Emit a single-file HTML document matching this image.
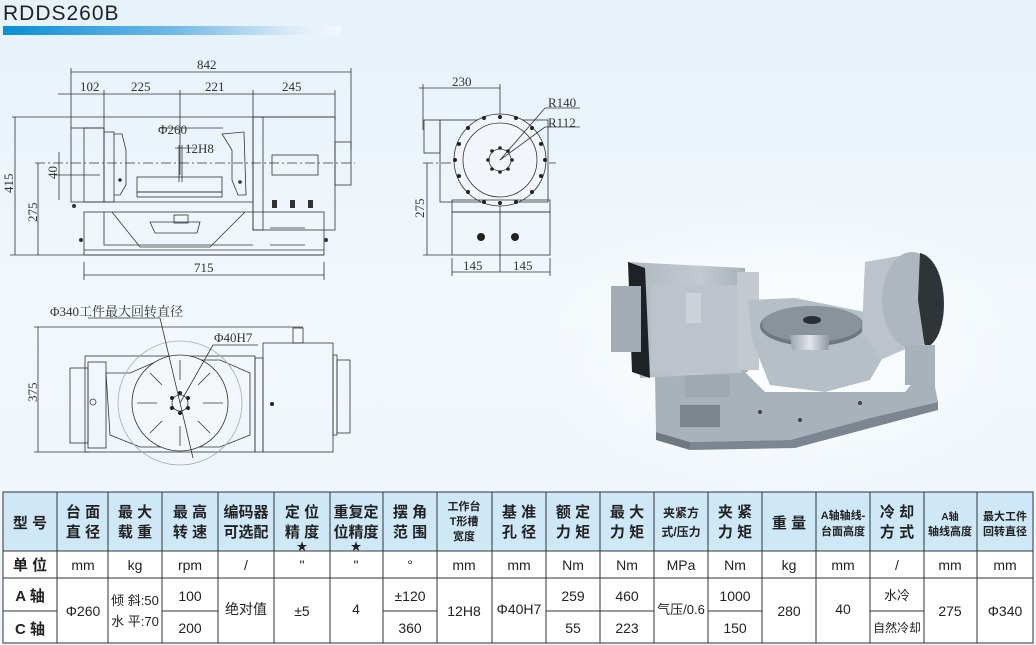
<!DOCTYPE html>
<html><head><meta charset="utf-8"><style>
html,body{margin:0;padding:0;}
body{width:1036px;height:645px;overflow:hidden;background:linear-gradient(180deg,#e6f1fa 0%,#f2f8fc 45%,#eef5fb 100%);font-family:"Liberation Sans","Noto Sans CJK SC",sans-serif;}
svg{position:absolute;left:0;top:0;}
</style></head><body>
<svg width="1036" height="645" viewBox="0 0 1036 645" xmlns="http://www.w3.org/2000/svg">
<defs>
<linearGradient id="bar" x1="0" x2="1" y1="0" y2="0">
<stop offset="0" stop-color="#0a8fd6"/><stop offset="0.5" stop-color="#6fb8e6"/><stop offset="0.85" stop-color="#dbeaf6"/><stop offset="1" stop-color="#f5f9fd"/></linearGradient>
<radialGradient id="glow" cx="0.5" cy="0.5" r="0.5"><stop offset="0" stop-color="#ffffff" stop-opacity="0.9"/><stop offset="1" stop-color="#ffffff" stop-opacity="0"/></radialGradient>
<linearGradient id="metal" x1="0" x2="1"><stop offset="0" stop-color="#9ba4ae"/><stop offset="0.5" stop-color="#e2e6ea"/><stop offset="1" stop-color="#8a939c"/></linearGradient>
<linearGradient id="house" x1="0" x2="1"><stop offset="0" stop-color="#aeb6bf"/><stop offset="0.6" stop-color="#c3cad1"/><stop offset="1" stop-color="#a6aeb7"/></linearGradient>
</defs>
<ellipse cx="780" cy="350" rx="260" ry="150" fill="url(#glow)"/>
<text x="3" y="20" font-size="21" fill="#222" letter-spacing="1">RDDS260B</text>
<rect x="3" y="26" width="338" height="9" fill="url(#bar)"/>

<g stroke="#333" stroke-width="0.8" fill="none" font-family="Liberation Serif,serif" font-size="13">
<line x1="71" y1="72" x2="351" y2="72"/><line x1="71" y1="68" x2="71" y2="128"/><line x1="351" y1="68" x2="351" y2="150"/>
<line x1="58" y1="94" x2="335" y2="94"/>
<line x1="104" y1="90" x2="104" y2="130"/><line x1="180" y1="90" x2="180" y2="175"/><line x1="253" y1="90" x2="253" y2="120"/><line x1="335" y1="90" x2="335" y2="120"/>
<line x1="12" y1="117" x2="335" y2="117"/><line x1="15" y1="117" x2="15" y2="255"/>
<line x1="35" y1="163" x2="355" y2="163" stroke-dasharray="10 3 2 3"/>
<line x1="38" y1="163" x2="38" y2="255"/><line x1="10" y1="255" x2="324" y2="255"/>
<line x1="59" y1="152" x2="59" y2="200"/><line x1="55" y1="175" x2="100" y2="175"/>
<line x1="84" y1="262" x2="84" y2="280"/><line x1="324" y1="262" x2="324" y2="280"/><line x1="84" y1="275" x2="324" y2="275"/>
<rect x="71" y="128" width="33" height="74"/><rect x="84" y="128" width="20" height="74"/>
<rect x="104" y="132" width="10" height="70"/>
<path d="M114 134 L122 134 L126 150 L126 185 L120 195 L114 195"/>
<path d="M222 134 L244 132 L246 195 L238 195 L232 180 L232 150 Z"/>
<rect x="137" y="177" width="85" height="15"/>
<rect x="137" y="192" width="85" height="5"/>
<path d="M104 202 L253 202 M112 212 L140 247 L210 247 L245 212"/>
<path d="M104 212 L104 245 L253 245"/>
<path d="M150 222 L200 222 L197 233 L155 233 Z"/>
<rect x="174" y="215" width="14" height="8"/>
<rect x="253" y="117" width="82" height="113"/><rect x="253" y="117" width="10" height="113"/>
<rect x="272" y="155" width="46" height="20"/>
<rect x="335" y="142" width="16" height="43"/>
<rect x="84" y="212" width="240" height="43"/>
<line x1="84" y1="250" x2="324" y2="250"/>
<line x1="270" y1="228" x2="305" y2="228"/><line x1="270" y1="245" x2="305" y2="245"/>
<line x1="160" y1="128" x2="223" y2="128"/><line x1="175" y1="148" x2="195" y2="148"/>
<line x1="179" y1="145" x2="179" y2="182"/><line x1="182" y1="145" x2="182" y2="182"/>
<g fill="#333" stroke="none">
<circle cx="120" cy="180" r="1.8"/><circle cx="240" cy="182" r="1.8"/><circle cx="74" cy="206" r="2"/><circle cx="81" cy="240" r="2"/><circle cx="326" cy="240" r="2"/>
<rect x="272" y="200" width="5" height="8"/><rect x="290" y="200" width="5" height="8"/><rect x="308" y="200" width="5" height="8"/>
</g>
<line x1="423" y1="84" x2="423" y2="130"/><line x1="500" y1="84" x2="500" y2="272"/><line x1="419" y1="88" x2="500" y2="88"/>
<line x1="423" y1="163" x2="556" y2="163" stroke-dasharray="10 3 2 3"/>
<line x1="427" y1="163" x2="427" y2="255"/><line x1="423" y1="255" x2="452" y2="255"/>
<rect x="424" y="120" width="16" height="33"/>
<rect x="440" y="120" width="108" height="82"/>
<circle cx="500" cy="160" r="46" fill="#f2f6fa"/><circle cx="500" cy="160" r="37"/>
<circle cx="500" cy="160" r="11"/>
<rect x="452" y="200" width="98" height="12"/>
<rect x="452" y="212" width="98" height="43"/>
<line x1="452" y1="258" x2="452" y2="276"/><line x1="550" y1="258" x2="550" y2="276"/>
<line x1="452" y1="272" x2="550" y2="272"/>
<line x1="500" y1="160" x2="545" y2="108"/><line x1="500" y1="160" x2="545" y2="127"/>
<line x1="545" y1="108" x2="580" y2="108"/><line x1="545" y1="127" x2="580" y2="127"/>
<g fill="#222" stroke="none">
<circle cx="481" cy="237" r="4"/><circle cx="515" cy="237" r="4"/>
<circle cx="500" cy="117" r="2"/><circle cx="532" cy="128" r="2"/><circle cx="545" cy="160" r="2"/><circle cx="532" cy="192" r="2"/><circle cx="500" cy="203" r="2"/><circle cx="468" cy="192" r="2"/><circle cx="455" cy="160" r="2"/><circle cx="468" cy="128" r="2"/>
<circle cx="516" cy="118" r="2"/><circle cx="541" cy="144" r="2"/><circle cx="541" cy="176" r="2"/><circle cx="516" cy="202" r="2"/><circle cx="484" cy="202" r="2"/><circle cx="459" cy="176" r="2"/><circle cx="459" cy="144" r="2"/><circle cx="484" cy="118" r="2"/>
<circle cx="500" cy="148" r="1.8"/><circle cx="512" cy="160" r="1.8"/><circle cx="500" cy="172" r="1.8"/><circle cx="488" cy="160" r="1.8"/><circle cx="508" cy="151" r="1.8"/><circle cx="508" cy="169" r="1.8"/><circle cx="492" cy="169" r="1.8"/><circle cx="492" cy="151" r="1.8"/>
</g>
<line x1="34" y1="327" x2="303" y2="327"/><line x1="38" y1="327" x2="38" y2="452"/><line x1="34" y1="452" x2="90" y2="452"/>
<rect x="85" y="356" width="170" height="96"/>
<rect x="70" y="368" width="18" height="75"/><rect x="88" y="362" width="18" height="86"/>
<path d="M106 373 L130 373 L160 360 L220 360 L250 373 L250 435 L220 447 L140 447 L110 435 Z"/>
<circle cx="180" cy="403" r="62" stroke="#aaa"/>
<circle cx="180" cy="403" r="48" fill="#f4f7fa"/>
<circle cx="180" cy="403" r="8"/>
<line x1="180" y1="360" x2="180" y2="380"/><line x1="180" y1="426" x2="180" y2="446"/><line x1="137" y1="403" x2="157" y2="403"/><line x1="203" y1="403" x2="223" y2="403"/>
<line x1="150" y1="373" x2="162" y2="385"/><line x1="210" y1="373" x2="198" y2="385"/><line x1="150" y1="433" x2="162" y2="421"/><line x1="210" y1="433" x2="198" y2="421"/>
<rect x="255" y="358" width="8" height="94"/>
<rect x="263" y="343" width="70" height="109"/>
<rect x="293" y="328" width="10" height="15"/>
<rect x="333" y="355" width="4" height="80"/><rect x="337" y="360" width="13" height="73"/>
<line x1="160" y1="318" x2="193" y2="458"/><line x1="88" y1="318" x2="160" y2="318"/>
<line x1="180" y1="403" x2="213" y2="345"/><line x1="213" y1="345" x2="258" y2="345"/>
<g fill="#222" stroke="none"><circle cx="272" cy="404" r="2"/><circle cx="93" cy="402" r="3" fill="none" stroke="#333"/>
<circle cx="172" cy="398" r="2"/><circle cx="188" cy="398" r="2"/><circle cx="172" cy="408" r="2"/><circle cx="188" cy="408" r="2"/><circle cx="180" cy="393" r="2"/><circle cx="180" cy="413" r="2"/></g>
<g fill="#333" stroke="none">
<text x="197" y="69">842</text>
<text x="80" y="91">102</text><text x="131" y="91">225</text><text x="205" y="91">221</text><text x="282" y="91">245</text>
<text x="158" y="134">Φ260</text><text x="185" y="153">12H8</text>
<text x="194" y="272">715</text>
<text transform="translate(13,193) rotate(-90)">415</text>
<text transform="translate(37,222) rotate(-90)">275</text>
<text transform="translate(57,179) rotate(-90)">40</text>
<text x="452" y="86">230</text>
<text x="548" y="107">R140</text><text x="548" y="127">R112</text>
<text transform="translate(424,218) rotate(-90)">275</text>
<text x="463" y="270">145</text><text x="513" y="270">145</text>
<text transform="translate(37,402) rotate(-90)">375</text>
<text x="50" y="316" font-family="Liberation Serif,'Noto Serif CJK SC',serif">Φ340工件最大回转直径</text>
<text x="214" y="342">Φ40H7</text>
</g>
</g>

<!-- photo -->
<g stroke="none">
<path d="M655 375 L745 372 L765 392 L905 392 L930 362 L938 402 L870 418 L790 440 L690 442 L656 432 Z" fill="#a9b2bb"/>
<path d="M690 442 L790 440 L870 418 L938 402 L938 410 L795 448 L690 450 Z" fill="#7d8690"/>
<path d="M656 432 L690 442 L690 450 L656 440 Z" fill="#6f7780"/>
<rect x="680" y="405" width="40" height="22" fill="#7d868f"/>
<rect x="685" y="375" width="45" height="22" fill="#a0a9b2"/>
<path d="M628 262 L745 268 L748 372 L640 378 Z" fill="url(#house)"/>
<path d="M628 262 L645 268 L650 378 L632 372 Z" fill="#1e2226"/>
<rect x="651" y="285" width="90" height="88" fill="#bcc3ca"/>
<rect x="686" y="293" width="15" height="30" fill="#ccd2d8"/>
<rect x="611" y="286" width="30" height="66" fill="#a3abb4"/>
<rect x="737" y="272" width="22" height="98" fill="#c3c9cf"/>
<path d="M748 300 L795 298 L880 315 L890 345 L870 380 L825 392 L770 385 L752 340 Z" fill="#b6bec6"/>
<ellipse cx="812" cy="326" rx="52" ry="20" fill="#6f7780"/>
<ellipse cx="812" cy="324" rx="50" ry="18" fill="#8a929a"/>
<ellipse cx="812" cy="320" rx="9" ry="4" fill="#2a2f33"/>
<path d="M790 335 L830 335 L828 350 L792 350 Z" fill="url(#metal)"/>
<path d="M865 262 L905 255 L915 345 L880 360 L862 330 Z" fill="#bcc3cb"/>
<ellipse cx="912" cy="300" rx="30" ry="48" fill="#aeb6bf"/>
<path d="M920 253 C950 260 952 340 925 348 L918 300 Z" fill="#2f3439"/>
<rect x="905" y="345" width="30" height="40" fill="#a9b1ba"/>
<g fill="#444"><circle cx="860" cy="403" r="2"/><circle cx="800" cy="420" r="2"/><circle cx="760" cy="412" r="2"/></g>
</g>

<g font-family="Liberation Sans,'Noto Sans CJK SC',sans-serif" text-anchor="middle" fill="#222">
<rect x="3" y="492" width="1030" height="59" fill="#cfe8f7"/>
<rect x="3" y="551" width="1030" height="92" fill="#ffffff"/>
<g stroke="#333" stroke-width="1" fill="none">
<rect x="3" y="492" width="1030" height="151"/>
<line x1="3" y1="551" x2="1033" y2="551"/><line x1="3" y1="578" x2="1033" y2="578"/>
<line x1="3" y1="611" x2="57" y2="611"/><line x1="162" y1="611" x2="218" y2="611"/><line x1="383" y1="611" x2="437" y2="611"/><line x1="546" y1="611" x2="654" y2="611"/><line x1="708" y1="611" x2="762" y2="611"/><line x1="870" y1="611" x2="924" y2="611"/>
<path d="M57 492V643M108 492V643M162 492V643M218 492V643M274 492V643M330 492V643M383 492V643M437 492V643M492 492V643M546 492V643M600 492V643M654 492V643M708 492V643M762 492V643M816 492V643M870 492V643M924 492V643M977 492V643"/>
</g>
<g font-weight="bold" font-size="15">
<text x="30" y="528">型 号</text>
<text x="83" y="517">台 面</text><text x="83" y="537">直 径</text>
<text x="135" y="517">最 大</text><text x="135" y="537">载 重</text>
<text x="190" y="517">最 高</text><text x="190" y="537">转 速</text>
<text x="246" y="517">编码器</text><text x="246" y="537">可选配</text>
<text x="302" y="517">定 位</text><text x="302" y="537">精 度</text><text x="302" y="550" font-size="11">★</text>
<text x="356" y="517">重复定</text><text x="356" y="537">位精度</text><text x="356" y="550" font-size="11">★</text>
<text x="410" y="517">摆 角</text><text x="410" y="537">范 围</text>
<text x="464" y="510" font-size="11">工作台</text><text x="464" y="525" font-size="11">T形槽</text><text x="464" y="540" font-size="11">宽度</text>
<text x="519" y="517">基 准</text><text x="519" y="537">孔 径</text>
<text x="573" y="517">额 定</text><text x="573" y="537">力 矩</text>
<text x="627" y="517">最 大</text><text x="627" y="537">力 矩</text>
<text x="681" y="517" font-size="12">夹紧方</text><text x="681" y="536" font-size="12">式/压力</text>
<text x="735" y="517">夹 紧</text><text x="735" y="537">力 矩</text>
<text x="789" y="528">重 量</text>
<text x="843" y="519" font-size="11">A轴轴线-</text><text x="843" y="535" font-size="11">台面高度</text>
<text x="897" y="517">冷 却</text><text x="897" y="537">方 式</text>
<text x="950" y="520" font-size="10">A轴</text><text x="950" y="535" font-size="11">轴线高度</text>
<text x="1005" y="520" font-size="11">最大工件</text><text x="1005" y="535" font-size="11">回转直径</text>
<text x="30" y="570">单 位</text>
<text x="30" y="601">A 轴</text><text x="30" y="634">C 轴</text>
</g>
<g font-size="14">
<text x="83" y="570">mm</text><text x="135" y="570">kg</text><text x="190" y="570">rpm</text><text x="246" y="570">/</text><text x="302" y="570">"</text><text x="356" y="570">"</text><text x="410" y="570">°</text><text x="464" y="570">mm</text><text x="519" y="570">mm</text><text x="573" y="570">Nm</text><text x="627" y="570">Nm</text><text x="681" y="570">MPa</text><text x="735" y="570">Nm</text><text x="789" y="570">kg</text><text x="843" y="570">mm</text><text x="897" y="570">/</text><text x="950" y="570">mm</text><text x="1005" y="570">mm</text>
<text x="83" y="616">Φ260</text>
<text x="135" y="605" font-size="13">倾 斜:50</text><text x="135" y="626" font-size="13">水 平:70</text>
<text x="190" y="601">100</text><text x="190" y="633">200</text>
<text x="246" y="614">绝对值</text>
<text x="302" y="616">±5</text><text x="356" y="614">4</text>
<text x="410" y="601">±120</text><text x="410" y="633">360</text>
<text x="464" y="616">12H8</text><text x="519" y="614">Φ40H7</text>
<text x="573" y="601">259</text><text x="573" y="633">55</text>
<text x="627" y="601">460</text><text x="627" y="633">223</text>
<text x="681" y="614" font-size="13">气压/0.6</text>
<text x="735" y="601">1000</text><text x="735" y="633">150</text>
<text x="789" y="616">280</text><text x="843" y="614">40</text>
<text x="897" y="600" font-size="13">水冷</text><text x="897" y="632" font-size="12">自然冷却</text>
<text x="950" y="616">275</text><text x="1005" y="616">Φ340</text>
</g>
</g>
</svg>
</body></html>
